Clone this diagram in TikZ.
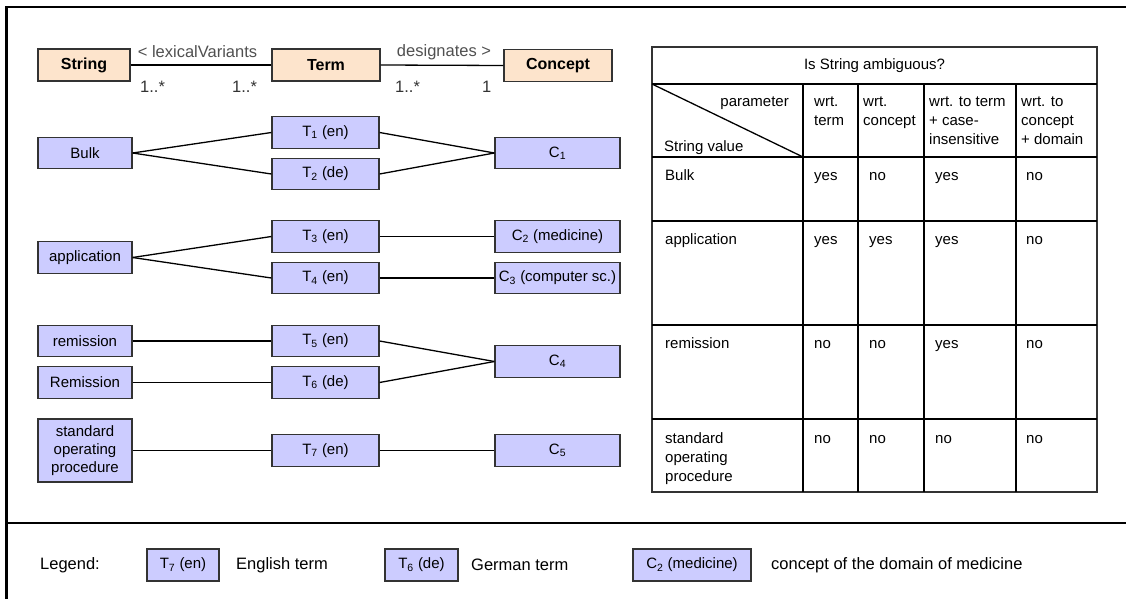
\documentclass[tikz,border=0pt]{standalone}
\usepackage{fontspec}
\setmainfont{Liberation Sans}
\definecolor{termblue}{RGB}{204,204,255}
\definecolor{classfill}{RGB}{253,228,204}
\definecolor{edgegray}{RGB}{51,51,51}
\definecolor{labelgray}{RGB}{80,80,80}

\tikzset{
  box/.style={draw=edgegray, line width=1.2pt, fill=termblue, inner sep=0pt,
    minimum height=31.5pt, align=center, font=\fontsize{15}{18}\selectfont},
  lbox/.style={box, minimum width=94pt},
  tbox/.style={box, minimum width=107pt},
  cbox/.style={box, minimum width=125pt},
  classbox/.style={draw=edgegray, line width=1.2pt, fill=classfill, inner sep=0pt,
    minimum height=32pt, minimum width=108pt, font=\bfseries\fontsize{16}{18}\selectfont},
  link/.style={line width=1.3pt},
  assoc/.style={inner sep=0pt, text=labelgray, font=\fontsize{16.5}{18}\selectfont},
  mult/.style={inner sep=0pt, anchor=west, text=edgegray, font=\fontsize{16.5}{18}\selectfont},
  cell/.style={inner sep=0pt, anchor=north west, align=left, font=\fontsize{15}{19}\selectfont},
  hcell/.style={inner sep=0pt, font=\fontsize{15}{19}\selectfont},
  grid/.style={line width=1.6pt},
  legendtext/.style={inner sep=0pt, anchor=west, font=\fontsize{16.5}{18}\selectfont},
}

\begin{document}
\begin{tikzpicture}[x=1pt, y=-1pt]
\useasboundingbox (0,0) rectangle (1126,599);

% outer frame and legend divider
\draw[line width=2.6pt] (6.5,599) -- (6.5,7) -- (1126,7);
\draw[line width=1.3pt] (6.5,523) -- (1126,523);

% class model
\node[classbox, minimum width=92pt] (string) at (84,65) {String};
\node[classbox] (term) at (326,65) {Term};
\node[classbox] (concept) at (558,65.5) {Concept};
\draw[link] (string.east) -- (term.west);
\draw[link] (term.east) -- (concept.west);
\node[assoc] (lexlab) at (197.5,52) {< lexicalVariants};
\node[assoc] (deslab) at (444,52) {designates >};
\node[mult] (m1) at (140,87) {1..*};
\node[mult] (m2) at (232,87) {1..*};
\node[mult] (m3) at (395,87) {1..*};
\node[mult] (m4) at (482,87) {1};

% strings
\node[lbox] (bulk) at (85,153) {Bulk};
\node[lbox] (appl) at (85,257.5) {application};
\node[lbox] (remlow) at (85,341) {remission};
\node[lbox] (remup) at (85,382.5) {Remission};
\node[lbox, minimum height=63pt, font=\fontsize{15}{18}\selectfont] (sop) at (85,450.5) {standard\\operating\\procedure};

% terms
\node[tbox] (t1) at (325.5,132.5) {T\textsubscript{1} (en)};
\node[tbox] (t2) at (325.5,174) {T\textsubscript{2} (de)};
\node[tbox] (t3) at (325.5,236.5) {T\textsubscript{3} (en)};
\node[tbox] (t4) at (325.5,278) {T\textsubscript{4} (en)};
\node[tbox] (t5) at (325.5,341) {T\textsubscript{5} (en)};
\node[tbox] (t6) at (325.5,382.5) {T\textsubscript{6} (de)};
\node[tbox] (t7) at (325.5,450.5) {T\textsubscript{7} (en)};

% concepts
\node[cbox] (c1) at (557.5,153) {C\textsubscript{1}};
\node[cbox] (c2) at (557.5,236.5) {C\textsubscript{2} (medicine)};
\node[cbox] (c3) at (557.5,278) {C\textsubscript{3} (computer sc.)};
\node[cbox] (c4) at (557.5,361.5) {C\textsubscript{4}};
\node[cbox] (c5) at (557.5,450.5) {C\textsubscript{5}};

% connectors
\draw[link] (bulk.east) -- (t1.west);
\draw[link] (bulk.east) -- (t2.west);
\draw[link] (t1.east) -- (c1.west);
\draw[link] (t2.east) -- (c1.west);
\draw[link] (appl.east) -- (t3.west);
\draw[link] (appl.east) -- (t4.west);
\draw[link] (t3.east) -- (c2.west);
\draw[link] (t4.east) -- (c3.west);
\draw[link] (remlow.east) -- (t5.west);
\draw[link] (remup.east) -- (t6.west);
\draw[link] (t5.east) -- (c4.west);
\draw[link] (t6.east) -- (c4.west);
\draw[link] (sop.east) -- (t7.west);
\draw[link] (t7.east) -- (c5.west);

% ambiguity table
\draw[line width=1.2pt, draw=edgegray] (652,47) rectangle (1097,492);
\foreach \yy in {84,157,221,325,419}
  \draw[grid] (652,\yy) -- (1097,\yy);
\foreach \xx in {803,858,924,1016}
  \draw[grid] (\xx,84) -- (\xx,492);
\draw[line width=1.3pt] (652,84) -- (803,157);

\node[hcell] (title) at (874.5,65.5) {Is String ambiguous?};
\node[hcell, anchor=base east] (param) at (789,106.5) {parameter};
\node[hcell, anchor=base west] (strval) at (664,151.5) {String value};
\node[cell] (h1) at (814,93) {\strut wrt.\\term};
\node[cell] (h2) at (863,93) {\strut wrt.\\concept};
\node[cell] (h3) at (929,93) {\strut wrt. to term\\+ case-\\insensitive};
\node[cell] (h4) at (1021,93) {\strut wrt. to\\concept\\+ domain};

\node[cell] (r1a) at (665,166.5) {\strut Bulk};
\node[cell] (r1b) at (814,166.5) {\strut yes};
\node[cell] (r1c) at (869,166.5) {\strut no};
\node[cell] (r1d) at (935,166.5) {\strut yes};
\node[cell] (r1e) at (1026,166.5) {\strut no};

\node[cell] (r2a) at (665,230.5) {\strut application};
\node[cell] (r2b) at (814,230.5) {\strut yes};
\node[cell] (r2c) at (869,230.5) {\strut yes};
\node[cell] (r2d) at (935,230.5) {\strut yes};
\node[cell] (r2e) at (1026,230.5) {\strut no};

\node[cell] (r3a) at (665,334.5) {\strut remission};
\node[cell] (r3b) at (814,334.5) {\strut no};
\node[cell] (r3c) at (869,334.5) {\strut no};
\node[cell] (r3d) at (935,334.5) {\strut yes};
\node[cell] (r3e) at (1026,334.5) {\strut no};

\node[cell] (r4a) at (665,429.5) {\strut standard\\operating\\procedure};
\node[cell] (r4b) at (814,429.5) {\strut no};
\node[cell] (r4c) at (869,429.5) {\strut no};
\node[cell] (r4d) at (935,429.5) {\strut no};
\node[cell] (r4e) at (1026,429.5) {\strut no};

% legend
\node[legendtext] (legend) at (40,565) {Legend:};
\node[box, minimum width=72pt, minimum height=32pt] (legen) at (183,565) {T\textsubscript{7} (en)};
\node[legendtext] (legentext) at (236,565) {English term};
\node[box, minimum width=73pt, minimum height=32pt] (legde) at (421.5,565) {T\textsubscript{6} (de)};
\node[legendtext] (legdetext) at (471,565) {German term};
\node[box, minimum width=118pt, minimum height=32pt] (legmed) at (692,565) {C\textsubscript{2} (medicine)};
\node[legendtext] (legmedtext) at (771,565) {concept of the domain of medicine};
\end{tikzpicture}
\end{document}
